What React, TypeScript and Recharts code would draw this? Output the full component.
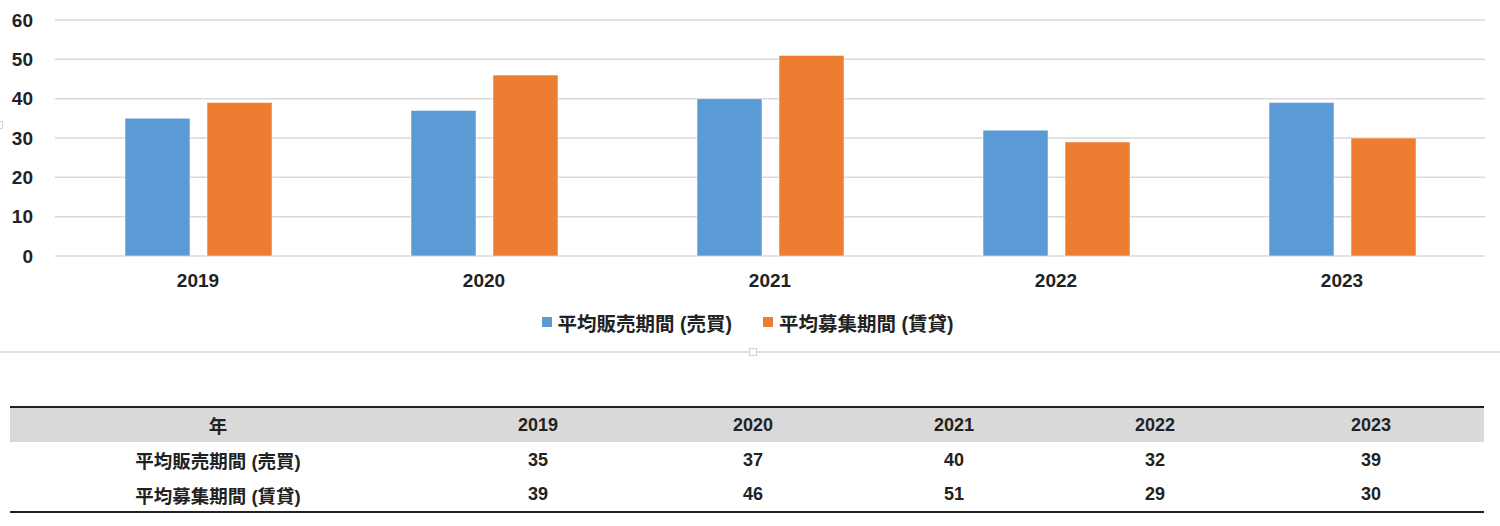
import React from "react";
import {
  Bar,
  BarChart,
  CartesianGrid,
  Legend,
  XAxis,
  YAxis,
} from "recharts";

const years = ["2019", "2020", "2021", "2022", "2023"];
const salesDays = [35, 37, 40, 32, 39];
const rentDays = [39, 46, 51, 29, 30];
const yTicks = [0, 10, 20, 30, 40, 50, 60];

const salesName = "平均販売期間 (売買)";
const rentName = "平均募集期間 (賃貸)";
const yearHeader = "年";

const BLUE = "#5B9BD5";
const ORANGE = "#ED7D31";
const GRID = "#d9d9d9";
const FONT = "'Liberation Sans', 'Noto Sans CJK JP', Arial, sans-serif";

const rows = years.map((year, i) => ({
  year,
  sales: salesDays[i],
  rent: rentDays[i],
}));

function LegendRow() {
  const items = [
    { color: BLUE, label: salesName },
    { color: ORANGE, label: rentName },
  ];
  return (
    <div
      style={{
        height: 24,
        display: "flex",
        justifyContent: "center",
        alignItems: "center",
        gap: 31,
        fontFamily: FONT,
        fontWeight: 700,
        fontSize: 19.5,
        color: "#222",
        paddingLeft: 10,
      }}
    >
      {items.map((it) => (
        <span
          key={it.label}
          style={{ display: "inline-flex", alignItems: "center", gap: 6 }}
        >
          <span
            style={{
              width: 10,
              height: 10,
              backgroundColor: it.color,
              display: "inline-block",
            }}
          />
          {it.label}
        </span>
      ))}
    </div>
  );
}

// column widths of the summary table, label column first
const colWidths = [416, 224, 206, 196, 206, 226];

function SummaryTable() {
  const cell: React.CSSProperties = {
    textAlign: "center",
    padding: 0,
    fontFamily: FONT,
    fontWeight: 700,
    fontSize: 18,
    color: "#222",
  };
  const label: React.CSSProperties = { ...cell, fontSize: 18.5 };
  return (
    <table
      style={{
        position: "absolute",
        left: 10,
        top: 406,
        width: 1474,
        borderCollapse: "collapse",
        tableLayout: "fixed",
        borderTop: "2px solid #222",
        borderBottom: "2px solid #222",
      }}
    >
      <colgroup>
        {colWidths.map((w, i) => (
          <col key={i} style={{ width: w }} />
        ))}
      </colgroup>
      <tbody>
        <tr style={{ height: 35, backgroundColor: "#d9d9d9" }}>
          <td style={label}>{yearHeader}</td>
          {years.map((y) => (
            <td key={y} style={cell}>
              {y}
            </td>
          ))}
        </tr>
        <tr style={{ height: 36 }}>
          <td style={label}>{salesName}</td>
          {salesDays.map((v, i) => (
            <td key={i} style={cell}>
              {v}
            </td>
          ))}
        </tr>
        <tr style={{ height: 34 }}>
          <td style={label}>{rentName}</td>
          {rentDays.map((v, i) => (
            <td key={i} style={cell}>
              {v}
            </td>
          ))}
        </tr>
      </tbody>
    </table>
  );
}

export default function App() {
  const tick = {
    fontSize: 19,
    fontWeight: 700,
    fill: "#222",
    fontFamily: FONT,
  };
  return (
    <div
      style={{
        position: "absolute",
        left: 0,
        top: 0,
        width: 1500,
        height: 526,
        background: "#fff",
        overflow: "hidden",
      }}
    >
      <BarChart
        width={1500}
        height={350}
        data={rows}
        margin={{ top: 20, right: 15, bottom: 16, left: 0 }}
        barCategoryGap={70}
        barGap={17}
      >
        <CartesianGrid stroke={GRID} strokeWidth={1.5} vertical={false} />
        <XAxis
          dataKey="year"
          axisLine={false}
          tickLine={false}
          tickSize={0}
          tickMargin={18}
          height={54}
          tick={tick}
        />
        <YAxis
          width={55}
          domain={[0, 60]}
          ticks={yTicks}
          axisLine={false}
          tickLine={false}
          tickSize={0}
          tickMargin={22}
          tick={tick}
        />
        <Legend verticalAlign="bottom" content={() => <LegendRow />} />
        <Bar
          dataKey="sales"
          name={salesName}
          fill={BLUE}
          stroke="#ffffff"
          strokeOpacity={0.5}
          strokeWidth={1}
          isAnimationActive={false}
        />
        <Bar
          dataKey="rent"
          name={rentName}
          fill={ORANGE}
          stroke="#ffffff"
          strokeOpacity={0.5}
          strokeWidth={1}
          isAnimationActive={false}
        />
      </BarChart>

      {/* chart frame edge with its selection handles */}
      <div
        style={{
          position: "absolute",
          left: 0,
          top: 351,
          width: 1500,
          height: 2,
          backgroundColor: "#e2e2e2",
        }}
      />
      <div
        style={{
          position: "absolute",
          left: 749,
          top: 348,
          width: 6,
          height: 6,
          border: "1px solid #cfcfcf",
          backgroundColor: "#fff",
        }}
      />
      <div
        style={{
          position: "absolute",
          left: -5,
          top: 121,
          width: 6,
          height: 6,
          border: "1px solid #d5d5d5",
          backgroundColor: "#fff",
        }}
      />

      <SummaryTable />
    </div>
  );
}
